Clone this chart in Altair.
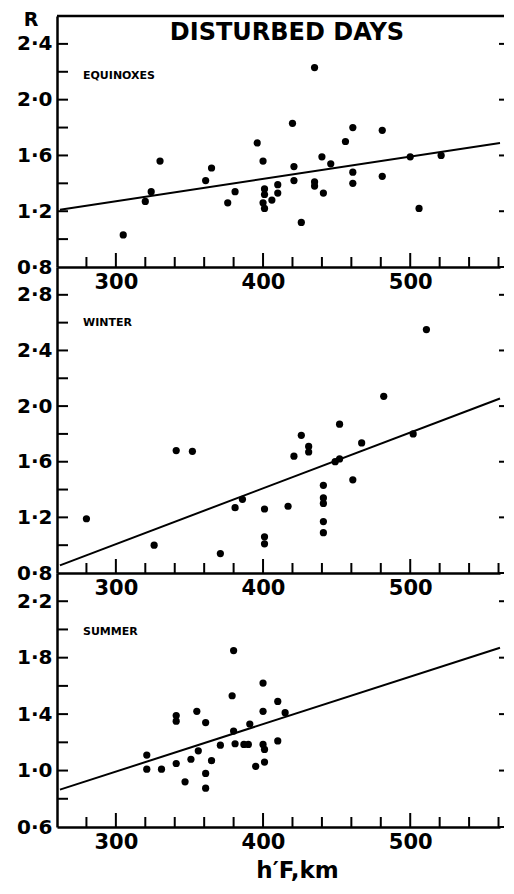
import altair as alt
import pandas as pd

# ---------------- data ----------------
eq_h = [305, 320, 324, 330, 361, 365, 376, 381, 396, 400, 401, 401, 400, 401, 406, 410, 410,
        420, 421, 421, 426, 435, 435, 435, 440, 441, 446, 456, 461, 461, 461, 481, 481, 500, 506, 521]
eq_R = [1.03, 1.27, 1.34, 1.56, 1.42, 1.51, 1.26, 1.34, 1.69, 1.56, 1.36, 1.32, 1.26, 1.22, 1.28, 1.39, 1.33,
        1.83, 1.52, 1.42, 1.12, 2.23, 1.41, 1.38, 1.59, 1.33, 1.54, 1.70, 1.80, 1.48, 1.40, 1.78, 1.45, 1.59, 1.22, 1.60]

win_h = [280, 326, 341, 352, 371, 381, 386, 401, 401, 401, 417, 421, 426, 431, 431, 441, 441, 441,
         441, 441, 452, 452, 449, 461, 467, 482, 502, 511]
win_R = [1.19, 1.00, 1.68, 1.675, 0.94, 1.27, 1.33, 1.26, 1.06, 1.01, 1.28, 1.64, 1.79, 1.71, 1.67, 1.43, 1.34, 1.30,
         1.17, 1.09, 1.87, 1.62, 1.60, 1.47, 1.735, 2.07, 1.80, 2.55]

sum_h = [321, 321, 331, 341, 341, 341, 347, 351, 355, 356, 361, 361, 361, 365, 371, 380, 379, 380,
         381, 387, 390, 391, 395, 400, 400, 400, 401, 401, 410, 410, 415]
sum_R = [1.11, 1.01, 1.01, 1.39, 1.35, 1.05, 0.92, 1.08, 1.42, 1.14, 1.34, 0.98, 0.875, 1.07, 1.18, 1.85, 1.53, 1.28,
         1.19, 1.185, 1.185, 1.33, 1.03, 1.62, 1.42, 1.185, 1.15, 1.06, 1.49, 1.21, 1.41]

# regression line end points (h, R)
eq_line_h, eq_line_R = [262, 561], [1.21, 1.69]
win_line_h, win_line_R = [262, 561], [0.855, 2.055]
sum_line_h, sum_line_R = [262, 561], [0.865, 1.87]

x_labels = [300, 400, 500]
x_minor = [280, 320, 340, 360, 380, 420, 440, 460, 480, 520, 540, 560]

eq_ylabels = [0.8, 1.2, 1.6, 2.0, 2.4]
eq_yticks = [1.0, 1.2, 1.4, 1.6, 1.8, 2.0, 2.2, 2.4]
win_ylabels = [0.8, 1.2, 1.6, 2.0, 2.4, 2.8]
win_yticks = [1.0, 1.2, 1.4, 1.6, 1.8, 2.0, 2.2, 2.4, 2.6, 2.8]
sum_ylabels = [0.6, 1.0, 1.4, 1.8, 2.2]
sum_yticks = [0.8, 1.0, 1.2, 1.4, 1.6, 1.8, 2.0, 2.2]

FONT = "DejaVu Sans"
W = 443
XDOM = [260, 561]


def panel(h, R, lh, lR, ydom, ylabels, yticks, height, name, name_y, top=False, xtitle=False):
    xscale = alt.Scale(domain=XDOM, nice=False, zero=False)
    yscale = alt.Scale(domain=ydom, nice=False, zero=False)
    xaxis_kw = dict(values=x_labels, ticks=False, grid=False, domainColor="black", domainWidth=2.5,
                    labelFont=FONT, labelFontSize=21, labelFontWeight="bold", labelColor="black",
                    labelPadding=4, labelFlush=False)
    if xtitle:
        xaxis_kw.update(titleFont=FONT, titleFontSize=23, titleFontWeight="bold",
                        titleColor="black", titlePadding=7, titleX=240)
    xaxis = alt.Axis(**xaxis_kw)
    yaxis = alt.Axis(values=ylabels, ticks=False, grid=False, domainColor="black", domainWidth=2.5,
                     labelFont=FONT, labelFontSize=20, labelFontWeight="bold", labelColor="black",
                     labelPadding=5, labelFlush=False,
                     labelExpr="replace(format(datum.value, '.1f'), '.', '·')")

    def X(field):
        if xtitle:
            return alt.X(field, type="quantitative", scale=xscale, axis=xaxis, title="h′F,km")
        return alt.X(field, type="quantitative", scale=xscale, axis=xaxis, title=None)

    def Y(field):
        return alt.Y(field, type="quantitative", scale=yscale, axis=yaxis, title=None)

    pts = pd.DataFrame({"h": h, "R": R})
    line = pd.DataFrame({"h": lh, "R": lR})
    yt = pd.DataFrame({"R": yticks})
    xt_minor = pd.DataFrame({"h": x_minor})
    xt_major = pd.DataFrame({"h": x_labels})
    yr = pd.DataFrame({"R": ylabels})

    layers = [
        alt.Chart(pts).mark_circle(size=52, color="black", opacity=1).encode(x=X("h"), y=Y("R")),
        alt.Chart(line).mark_line(color="black", strokeWidth=2).encode(x=X("h"), y=Y("R")),
        alt.Chart(yt).mark_rule(color="black", strokeWidth=2).encode(
            y=Y("R"), x=alt.value(0), x2=alt.value(11)),
        alt.Chart(xt_minor).mark_rule(color="black", strokeWidth=2).encode(
            x=X("h"), y=alt.value(height), y2=alt.value(height - 10)),
        alt.Chart(xt_major).mark_rule(color="black", strokeWidth=2).encode(
            x=X("h"), y=alt.value(height), y2=alt.value(height - 14)),
        alt.Chart(yr).mark_rule(color="black", strokeWidth=2).encode(
            y=Y("R"), x=alt.value(W - 1), x2=alt.value(W + 4)),
        alt.Chart(pd.DataFrame({"t": [name]})).mark_text(
            font=FONT, fontSize=11, fontWeight="bold", align="left", baseline="middle", color="black"
        ).encode(text="t:N", x=alt.value(26), y=alt.value(name_y)),
    ]
    if top:
        layers += [
            alt.Chart(pd.DataFrame({"a": [0]})).mark_rule(color="black", strokeWidth=2.5).encode(
                y=alt.value(0), x=alt.value(0), x2=alt.value(W + 4)),
            alt.Chart(pd.DataFrame({"t": ["DISTURBED DAYS"]})).mark_text(
                font=FONT, fontSize=24, fontWeight="bold", align="center", baseline="middle", color="black"
            ).encode(text="t:N", x=alt.value(230), y=alt.value(17)),
            alt.Chart(pd.DataFrame({"t": ["R"]})).mark_text(
                font=FONT, fontSize=19, fontWeight="bold", align="center", baseline="middle", color="black"
            ).encode(text="t:N", x=alt.value(-26), y=alt.value(4)),
        ]
    return alt.layer(*layers).properties(width=W, height=height)


p1 = panel(eq_h, eq_R, eq_line_h, eq_line_R, [0.8, 2.6], eq_ylabels, eq_yticks, 251, "EQUINOXES", 60, top=True)
p2 = panel(win_h, win_R, win_line_h, win_line_R, [0.8, 3.0], win_ylabels, win_yticks, 306, "WINTER", 56)
p3 = panel(sum_h, sum_R, sum_line_h, sum_line_R, [0.6, 2.4], sum_ylabels, sum_yticks, 254, "SUMMER", 59, xtitle=True)

chart = alt.vconcat(p1, p2, p3, spacing=0, bounds="flush").properties(
    padding={"left": 8, "top": 3, "right": 0, "bottom": 0},
    background="white",
).configure_view(stroke=None)

chart.save("out.html", embed_options={"renderer": "svg", "actions": False})
